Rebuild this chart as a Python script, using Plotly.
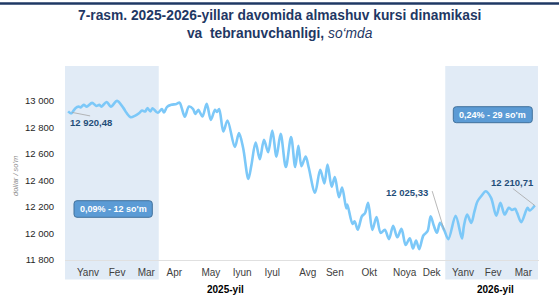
import plotly.graph_objects as go

# ---------------- data ----------------
dates = [
    "2025-01-04", "2025-01-07", "2025-01-11", "2025-01-14", "2025-01-16", "2025-01-19", "2025-01-22", "2025-01-27", "2025-01-31",
    "2025-02-03", "2025-02-05", "2025-02-10", "2025-02-14", "2025-02-20", "2025-02-26",
    "2025-03-01", "2025-03-05", "2025-03-09", "2025-03-13", "2025-03-16", "2025-03-19", "2025-03-21", "2025-03-24", "2025-03-26", "2025-03-31",
    "2025-04-04", "2025-04-06", "2025-04-09", "2025-04-13", "2025-04-18", "2025-04-21", "2025-04-23", "2025-04-26", "2025-04-30",
    "2025-05-04", "2025-05-06", "2025-05-09", "2025-05-10", "2025-05-13", "2025-05-17", "2025-05-21", "2025-05-25", "2025-05-27", "2025-05-29",
    "2025-06-02", "2025-06-06", "2025-06-13", "2025-06-17", "2025-06-21", "2025-06-26", "2025-06-29",
    "2025-07-03", "2025-07-07", "2025-07-11", "2025-07-15", "2025-07-19", "2025-07-23", "2025-07-27",
    "2025-08-01", "2025-08-06", "2025-08-10", "2025-08-13", "2025-08-16", "2025-08-20", "2025-08-23", "2025-08-29",
    "2025-09-03", "2025-09-07", "2025-09-10", "2025-09-14", "2025-09-17", "2025-09-21", "2025-09-24", "2025-09-28", "2025-09-29",
    "2025-10-04", "2025-10-06", "2025-10-09", "2025-10-13", "2025-10-16", "2025-10-19", "2025-10-23", "2025-10-27", "2025-10-31",
    "2025-11-04", "2025-11-08", "2025-11-12", "2025-11-16", "2025-11-20", "2025-11-24", "2025-11-28",
    "2025-12-01", "2025-12-04", "2025-12-07", "2025-12-11", "2025-12-15", "2025-12-18", "2025-12-21", "2025-12-24", "2025-12-27", "2025-12-31",
    "2026-01-04", "2026-01-11", "2026-01-17", "2026-01-19", "2026-01-22", "2026-01-26", "2026-01-29",
    "2026-02-01", "2026-02-05", "2026-02-09", "2026-02-14", "2026-02-19", "2026-02-23", "2026-02-27",
    "2026-03-03", "2026-03-06", "2026-03-09", "2026-03-11", "2026-03-15", "2026-03-21", "2026-03-23", "2026-03-28",
]
rate = [
    12920.48, 12906, 12945, 12957, 12951, 12970, 12957, 12985, 12962,
    12970, 12957, 12992, 12957, 13000, 12947,
    12910, 12877, 12887, 12907, 12927, 12920, 12945, 12921, 12944, 12910,
    12938, 12912, 12955, 12970, 12977, 12987, 12947, 12880, 12957,
    12938, 12902, 12932, 12921, 12882, 12977, 12857, 12932, 12917, 12938,
    12769, 12852, 12652, 12757, 12644, 12411, 12519,
    12686, 12560, 12707, 12613, 12777, 12579, 12752,
    12501, 12727, 12501, 12662, 12507, 12581, 12496, 12308,
    12481, 12378, 12519, 12353, 12425, 12274, 12346, 12188, 12218,
    12071, 12092, 12028, 12130, 12154, 12231, 12026, 12124, 12005,
    12028, 11957, 12058, 11971, 12035, 11913, 11964,
    11887, 11947, 11882, 11985, 12017, 12130, 12060, 12005, 12080, 12025.33,
    11957, 12133, 11962, 12060, 12143, 12080, 12165,
    12243, 12286, 12318, 12268, 12135, 12231, 12143,
    12193, 12177, 12186, 12155, 12085, 12193, 12173, 12210.71,
]
tick_dates = ["2025-01-23", "2025-02-20", "2025-03-20", "2025-04-16", "2025-05-21", "2025-06-20",
              "2025-07-19", "2025-08-22", "2025-09-17", "2025-10-20", "2025-11-23", "2025-12-19",
              "2026-01-18", "2026-02-16", "2026-03-17"]
tick_labels = ["Yanv", "Fev", "Mar", "Apr", "May", "Iyun", "Iyul", "Avg", "Sen", "Okt",
               "Noya", "Dek", "Yanv", "Fev", "Mar"]
y_ticks = [11800, 12000, 12200, 12400, 12600, 12800, 13000]
shade_periods = [("2025-01-01", "2025-04-01"), ("2026-01-01", "2026-03-31")]
vol_texts = ["0,09% - 12 so'm", "0,24% - 29 so'm"]
year_labels = [("2025-06-04", "2025-yil"), ("2026-02-18", "2026-yil")]
title_l1 = "7-rasm. 2025-2026-yillar davomida almashuv kursi dinamikasi"
title_l2 = "va  tebranuvchanligi, "
title_unit = "so‘mda"
y_title = "dollar / so'm"

# ---------------- layout helpers ----------------
W, H = 559, 303
L, R, T, B = 65, 20, 66, 43
PW, PH = W - L - R, H - T - B
FONT = "Liberation Sans, Arial, sans-serif"


def px(x):
    return (x - L) / PW


def py(y):
    return (H - B - y) / PH


def fmt(v):
    return f"{v:,.2f}".replace(",", " ").replace(".", ",")


fig = go.Figure()
fig.add_trace(go.Scatter(
    x=dates, y=rate, mode="lines",
    line=dict(color="#7cc8f8", width=2.6, shape="spline", smoothing=0.9),
    hoverinfo="skip", showlegend=False,
))

shapes = []
for a, b in shade_periods:
    shapes.append(dict(type="rect", xref="x", yref="paper", x0=a, x1=b,
                       y0=py(279.5), y1=1, fillcolor="#e1ebf6", line=dict(width=0),
                       layer="below"))

# top navy rule
shapes.append(dict(type="line", xref="paper", yref="paper", x0=px(0), x1=px(W),
                   y0=py(3.5), y1=py(3.5), line=dict(color="#1f3864", width=2.5)))


def rounded_box(x0, y0, x1, y1, r=3):
    X0, X1 = px(x0), px(x1)
    Y0, Y1 = py(y1), py(y0)
    rx, ry = r / PW, r / PH
    return (f"M{X0+rx},{Y1} L{X1-rx},{Y1} Q{X1},{Y1} {X1},{Y1-ry} "
            f"L{X1},{Y0+ry} Q{X1},{Y0} {X1-rx},{Y0} L{X0+rx},{Y0} "
            f"Q{X0},{Y0} {X0},{Y0+ry} L{X0},{Y1-ry} Q{X0},{Y1} {X0+rx},{Y1} Z")


boxes = [(74, 200.7, 152.3, 217.3), (453.3, 106.7, 532.3, 122.7)]
annotations = []
for (bx0, by0, bx1, by1), txt in zip(boxes, vol_texts):
    shapes.append(dict(type="path", xref="paper", yref="paper",
                       path=rounded_box(bx0, by0, bx1, by1),
                       fillcolor="#5b9bd5", line=dict(color="#41719c", width=1)))
    annotations.append(dict(xref="paper", yref="paper", x=px((bx0 + bx1) / 2),
                            y=py((by0 + by1) / 2), text=f"<b>{txt}</b>", showarrow=False,
                            font=dict(family=FONT, size=9, color="white"),
                            xanchor="center", yanchor="middle"))

labels = [
    (0, (4, -1, 22, -4.5), (23, -11), "center"),
    (dates.index("2025-12-31"), (0, 0, -12, 39), (-14, 38), "right"),
    (len(dates) - 1, (0, 0, -22, 17), (-22, 23), "center"),
]
for idx, (lx0, ly0, lx1, ly1), (sx, sy), anchor in labels:
    shapes.append(dict(type="line", xref="x", yref="y", xsizemode="pixel", ysizemode="pixel",
                       xanchor=dates[idx], yanchor=rate[idx],
                       x0=lx0, y0=ly0, x1=lx1, y1=ly1,
                       line=dict(color="#a6a6a6", width=0.8)))
    annotations.append(dict(x=dates[idx], y=rate[idx], xref="x", yref="y",
                            text=f"<b>{fmt(rate[idx])}</b>", showarrow=False,
                            xshift=sx, yshift=sy, xanchor=anchor, yanchor="middle",
                            font=dict(family=FONT, size=9.5, color="#1f4e79")))

for xd, txt in year_labels:
    annotations.append(dict(x=xd, xref="x", yref="paper", y=py(289.5), text=f"<b>{txt}</b>",
                            showarrow=False, xanchor="center", yanchor="middle",
                            font=dict(family=FONT, size=10, color="#000000")))

annotations.append(dict(xref="paper", yref="paper", x=px(15), y=py(176), text=f"<i>{y_title}</i>",
                        textangle=-90, showarrow=False, xanchor="center", yanchor="middle",
                        font=dict(family=FONT, size=7.5, color="#8c8c8c")))

annotations.append(dict(xref="paper", yref="paper", x=px(W / 2), y=py(24),
                        text=f"<b>{title_l1}<br>{title_l2}</b><i>{title_unit}</i>",
                        showarrow=False, xanchor="center", yanchor="middle", align="center",
                        font=dict(family=FONT, size=13.8, color="#1f3864")))

fig.update_layout(
    width=W, height=H,
    margin=dict(l=L, r=R, t=T, b=B),
    paper_bgcolor="white", plot_bgcolor="rgba(0,0,0,0)",
    separators=", ",
    xaxis=dict(type="date", range=["2025-01-01", "2026-04-01"],
               tickvals=tick_dates, ticktext=tick_labels, showgrid=False,
               showline=True, linecolor="#e0e0e0", linewidth=1, ticks="",
               ticklabelstandoff=3,
               tickfont=dict(family=FONT, size=10, color="#404040"), zeroline=False),
    yaxis=dict(range=[11800, 13263], tickvals=y_ticks, tickformat=",d", showgrid=False,
               zeroline=False, ticks="", ticklabelstandoff=10,
               tickfont=dict(family=FONT, size=9.5, color="#262626")),
    shapes=shapes, annotations=annotations,
    font=dict(family=FONT),
)

fig.write_html("out.html")
